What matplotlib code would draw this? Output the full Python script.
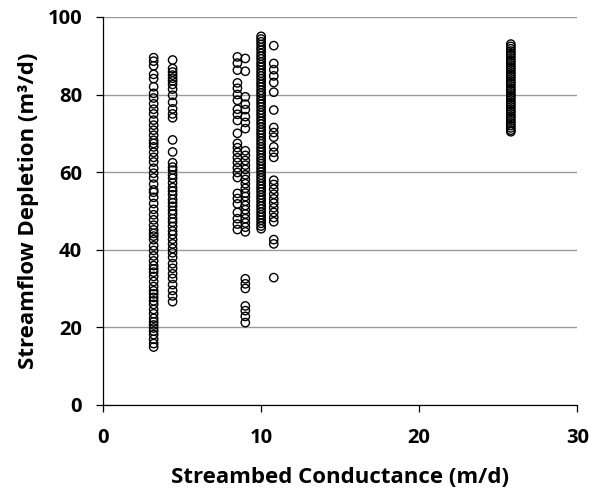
import numpy as np
from matplotlib import pyplot as plt

# streambed conductance (m/d) of each sampled group
conductance = [3.2, 4.4, 8.5, 9.0, 10.0, 10.8, 25.8]

# streamflow depletion (m3/d) for each conductance group
dep_32 = [89.5, 88.6, 87.4, 85.2, 84.1, 82.0, 80.3, 79.1, 77.6, 76.2, 75.0, 73.4,
          72.1, 70.8, 69.5, 68.2, 67.4, 66.5, 65.1, 63.8, 62.6, 61.0, 59.7, 58.5,
          56.9, 55.4, 54.8, 53.5, 51.9, 50.4, 49.0, 47.7, 46.3, 45.1, 44.2, 43.5,
          42.6, 41.0, 39.8, 38.4, 37.1, 35.9, 35.0, 34.2, 33.1, 31.8, 30.5, 29.4,
          28.6, 27.7, 26.8, 25.9, 24.6, 23.5, 22.3, 21.4, 20.6, 19.8, 19.0, 18.1,
          16.9, 15.8, 14.9]
dep_44 = [88.9, 86.7, 85.8, 85.0, 84.2, 83.5, 82.6, 81.4, 79.8, 78.0, 76.3, 75.0,
          74.0, 68.3, 65.2, 62.4, 61.3, 60.5, 59.3, 58.4, 57.2, 56.0, 55.1, 54.2,
          53.0, 52.1, 51.2, 50.1, 49.2, 48.0, 47.1, 46.0, 44.8, 43.9, 42.7, 41.5,
          40.3, 39.2, 38.0, 36.4, 35.2, 33.8, 32.6, 31.0, 29.5, 28.1, 26.6]
dep_85 = [89.7, 88.1, 86.3, 83.0, 81.6, 80.0, 78.5, 76.2, 74.9, 73.3, 70.0, 67.4,
          66.3, 65.1, 63.7, 62.5, 61.1, 59.9, 58.6, 54.5, 53.2, 51.8, 49.6, 48.0,
          46.6, 45.2]
dep_90 = [89.3, 86.0, 79.4, 77.5, 76.1, 74.3, 72.8, 71.2, 65.5, 64.3, 63.0, 61.8,
          60.7, 59.3, 58.1, 57.0, 55.8, 54.6, 53.7, 52.5, 51.4, 50.3, 49.2, 48.0,
          46.9, 45.8, 44.6, 32.5, 31.2, 30.0, 25.5, 24.3, 22.8, 21.2]
dep_100 = [95.0, 94.3, 93.6, 92.9, 92.1, 91.4, 90.6, 89.9, 89.2, 88.4, 87.7, 87.0,
           86.2, 85.5, 84.8, 84.1, 83.3, 82.6, 81.9, 81.1, 80.4, 79.7, 78.9, 78.2,
           77.5, 76.8, 76.0, 75.3, 74.6, 73.8, 73.1, 72.4, 71.6, 70.9, 70.2, 69.5,
           68.7, 68.0, 67.3, 66.5, 65.8, 65.1, 64.3, 63.6, 62.9, 62.2, 61.4, 60.7,
           60.0, 59.2, 58.5, 57.8, 57.0, 56.3, 55.6, 54.9, 54.1, 53.4, 52.7, 51.9,
           51.2, 50.5, 49.7, 49.0, 48.3, 47.6, 46.8, 46.1, 45.4]
dep_108 = [92.6, 88.0, 86.4, 84.8, 83.1, 80.6, 76.0, 71.5, 70.2, 69.0, 66.5, 65.1,
           63.8, 57.9, 56.8, 55.6, 54.3, 53.1, 52.0, 50.8, 49.6, 48.3, 47.2, 42.6,
           41.5, 32.8]
dep_258 = [93.0, 92.4, 91.8, 91.2, 90.6, 90.0, 89.4, 88.8, 88.2, 87.6, 87.0, 86.4,
           85.8, 85.2, 84.6, 84.0, 83.4, 82.8, 82.2, 81.6, 81.0, 80.4, 79.8, 79.2,
           78.6, 78.0, 77.4, 76.8, 76.2, 75.6, 75.0, 74.4, 73.8, 73.2, 72.6, 72.0,
           71.4, 70.8, 70.4]

depletion = [dep_32, dep_44, dep_85, dep_90, dep_100, dep_108, dep_258]

plt.rcParams['font.family'] = ['Open Sans', 'DejaVu Sans']

fig = plt.figure(figsize=(5.89, 4.98), dpi=100)
ax = fig.add_axes([0.175, 0.187, 0.805, 0.779])

for x, ys in zip(conductance, depletion):
    ax.scatter(np.full(len(ys), x), ys, s=36, facecolors='none',
               edgecolors='black', linewidths=1.0, zorder=3)

ax.set_xlim(0, 30)
ax.set_ylim(0, 100)
ax.set_xticks([0, 10, 20, 30])
ax.set_yticks([0, 20, 40, 60, 80, 100])
ax.yaxis.grid(True, color='#9a9a9a', linewidth=1.0)
ax.set_axisbelow(True)

for side in ['top', 'right']:
    ax.spines[side].set_visible(False)
for side in ['left', 'bottom']:
    ax.spines[side].set_linewidth(0.9)

ax.tick_params(axis='x', direction='out', length=5, width=0.9, pad=12)
ax.tick_params(axis='y', direction='out', length=5, width=0.9, pad=10)
for lab in ax.get_xticklabels() + ax.get_yticklabels():
    lab.set_fontweight('bold')
    lab.set_fontsize(14.5)

ax.set_xlabel('Streambed Conductance (m/d)', fontsize=16, fontweight='bold', labelpad=13)
ax.set_ylabel('Streamflow Depletion (m³/d)', fontsize=16, fontweight='bold', labelpad=6)

fig.savefig('out.png', dpi=100)
